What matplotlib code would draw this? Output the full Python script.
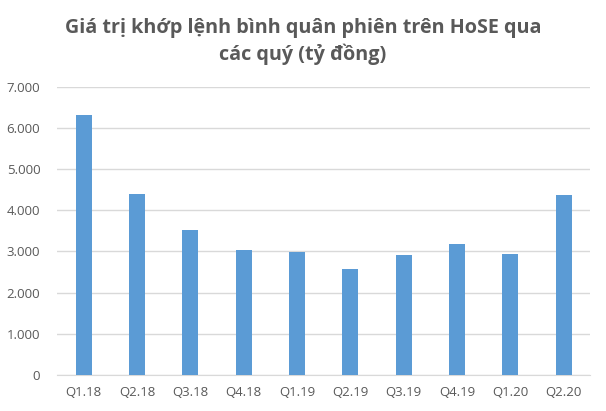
import numpy as np
import matplotlib
matplotlib.use("Agg")
import matplotlib.pyplot as plt
from matplotlib.ticker import FuncFormatter

quarters = ["Q1.18", "Q2.18", "Q3.18", "Q4.18", "Q1.19", "Q2.19", "Q3.19", "Q4.19", "Q1.20", "Q2.20"]
values = [6305, 4390, 3528, 3027, 2995, 2566, 2905, 3172, 2929, 4362]
title = "Giá trị khớp lệnh bình quân phiên trên HoSE qua\ncác quý (tỷ đồng)"

plt.rcParams['font.family'] = ['Open Sans', 'DejaVu Sans']
grey = "#595959"

fig = plt.figure(figsize=(6.06, 4.11), dpi=100)
ax = fig.add_axes([0.094, 0.0876, 0.880, 0.7014])
x = np.arange(len(quarters))
ax.bar(x, values, width=0.3, color="#5B9BD5", zorder=3)

ax.set_ylim(0, 7000)
ax.set_xlim(-0.5, len(quarters) - 0.5)
ax.set_yticks(np.arange(0, 7001, 1000))
ax.yaxis.set_major_formatter(FuncFormatter(lambda v, p: f"{int(v):,}".replace(",", ".")))
ax.set_xticks(x)
ax.set_xticklabels(quarters)
ax.grid(axis="y", color="#d9d9d9", linewidth=1, zorder=0)
for s in ["top", "right", "left"]:
    ax.spines[s].set_visible(False)
ax.spines["bottom"].set_color("#d9d9d9")
ax.tick_params(axis="both", length=0, labelsize=9.5, colors=grey, pad=8)
ax.tick_params(axis="y", pad=12)

fig.text(0.5, 0.955, title, ha="center", va="top", fontsize=14.2, fontweight="bold",
         color=grey, linespacing=1.3)

fig.savefig("out.png", dpi=100)
